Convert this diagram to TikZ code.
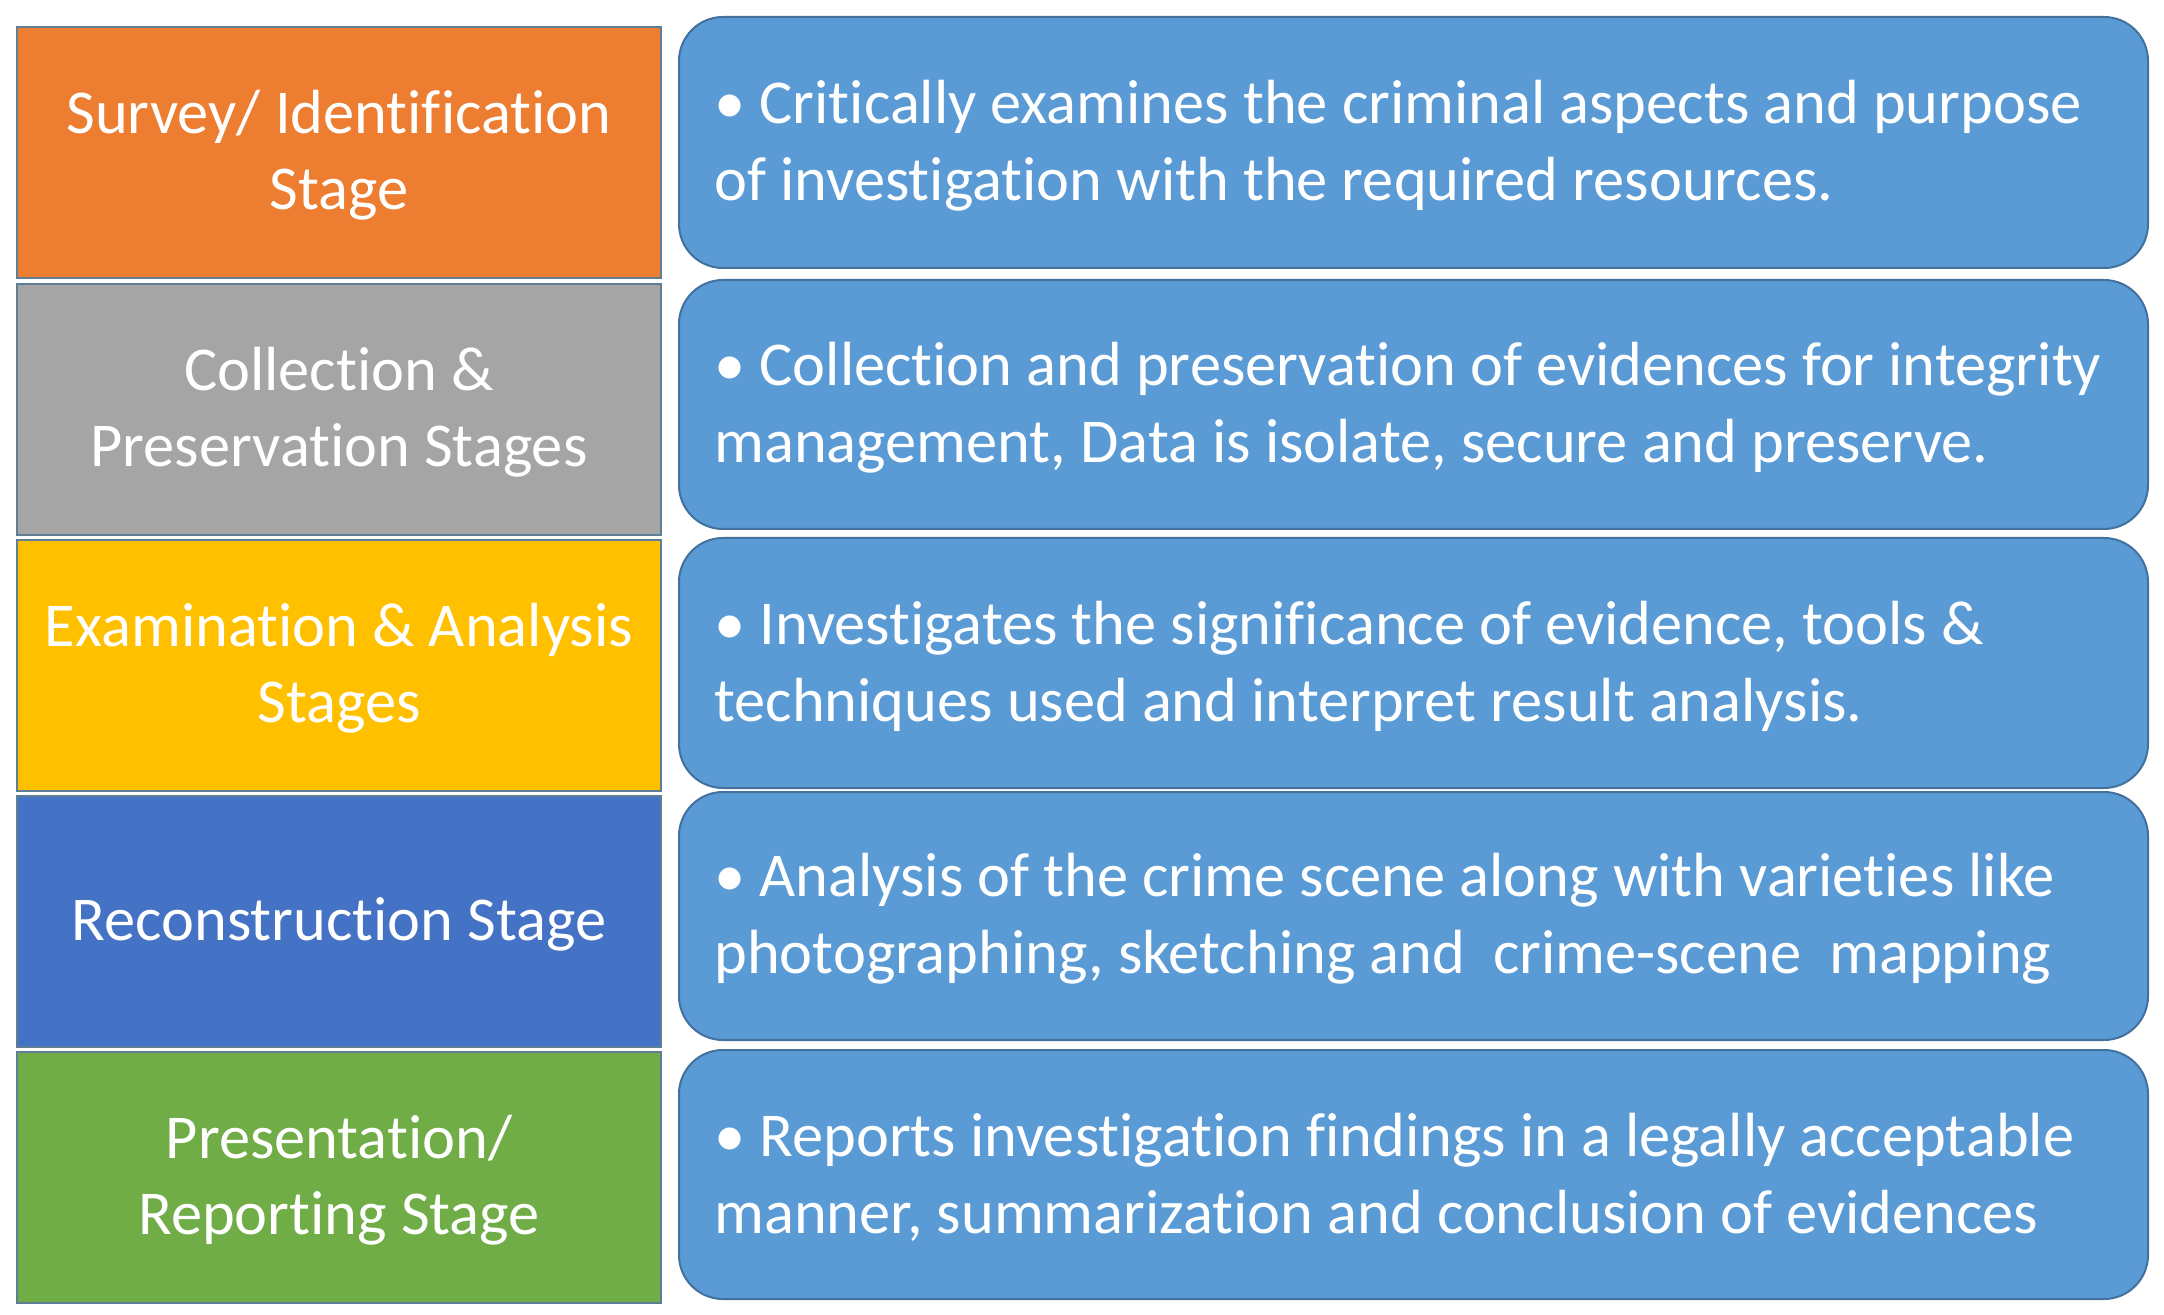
\documentclass[tikz,border=0pt]{standalone}
\usepackage{fontspec}
\setmainfont{Carlito}[Ligatures=NoCommon]
\definecolor{corange}{HTML}{ED7D31}
\definecolor{cgray}{HTML}{A5A5A5}
\definecolor{cgold}{HTML}{FFC000}
\definecolor{cblue}{HTML}{4472C4}
\definecolor{cgreen}{HTML}{70AD47}
\definecolor{cpanel}{HTML}{5B9BD5}
\definecolor{cedge}{HTML}{41719C}
\definecolor{cleftedge}{HTML}{5E7E96}
\begin{document}
\begin{tikzpicture}[x=0.5pt,y=-0.5pt,
  stagebox/.style={draw=cleftedge,line width=1pt,minimum width=322pt,minimum height=125.5pt,inner sep=0pt,anchor=north west},
  stagetext/.style={text=white,align=center,inner sep=0pt,font=\fontsize{31.2}{38}\selectfont},
  panel/.style={draw=cedge,fill=cpanel,line width=1pt,rounded corners=22pt,minimum width=734.5pt,minimum height=125.5pt,inner sep=0pt,anchor=north west},
  paneltext/.style={anchor=west,text=white,align=left,inner sep=0pt,font=\fontsize{31.2}{38.5}\selectfont}]
\useasboundingbox (0,0) rectangle (2164,1315);
\fill[white] (0,0) rectangle (2164,1315);
% left stage boxes
\node[stagebox,fill=corange] (l1) at (16,26) {};
\node[stagebox,fill=cgray] (l2) at (16,283) {};
\node[stagebox,fill=cgold] (l3) at (16,539) {};
\node[stagebox,fill=cblue] (l4) at (16,795) {};
\node[stagebox,fill=cgreen] (l5) at (16,1051) {};
\node[stagetext] (s1) at ([yshift=-1.5pt]l1.center) {Survey/ Identification\\Stage};
\node[stagetext] (s2) at ([yshift=-1.5pt]l2.center) {Collection \&\\Preservation Stages};
\node[stagetext] (s3) at ([yshift=-1.5pt]l3.center) {Examination \& Analysis\\Stages};
\node[stagetext] (s4) at ([yshift=-1.5pt]l4.center) {Reconstruction Stage};
\node[stagetext] (s5) at ([yshift=-1.5pt]l5.center) {Presentation/\\Reporting Stage};
% right panels
\node[panel,minimum height=125.5pt] (r1) at (678,16) {};
\node[panel,minimum height=124.5pt] (r2) at (678,279) {};
\node[panel,minimum height=125pt] (r3) at (678,537) {};
\node[panel,minimum height=124pt] (r4) at (678,791) {};
\node[panel,minimum height=124.5pt] (r5) at (678,1049) {};
\node[paneltext] (t1) at ([xshift=18pt,yshift=-1.5pt]r1.west) {• Critically examines the criminal aspects and purpose\\of investigation with the required resources.};
\node[paneltext] (t2) at ([xshift=18pt,yshift=-1.5pt]r2.west) {• Collection and preservation of evidences for integrity\\management, Data is isolate, secure and preserve.};
\node[paneltext] (t3) at ([xshift=18pt,yshift=-1.5pt]r3.west) {• Investigates the significance of evidence, tools \&\\techniques used and interpret result analysis.};
\node[paneltext] (t4) at ([xshift=18pt,yshift=-1.5pt]r4.west) {• Analysis of the crime scene along with varieties like\\photographing, sketching and\ \ crime-scene\ \ mapping};
\node[paneltext] (t5) at ([xshift=18pt,yshift=-1.5pt]r5.west) {• Reports investigation findings in a legally acceptable\\manner, summarization and conclusion of evidences};
\end{tikzpicture}
\end{document}
